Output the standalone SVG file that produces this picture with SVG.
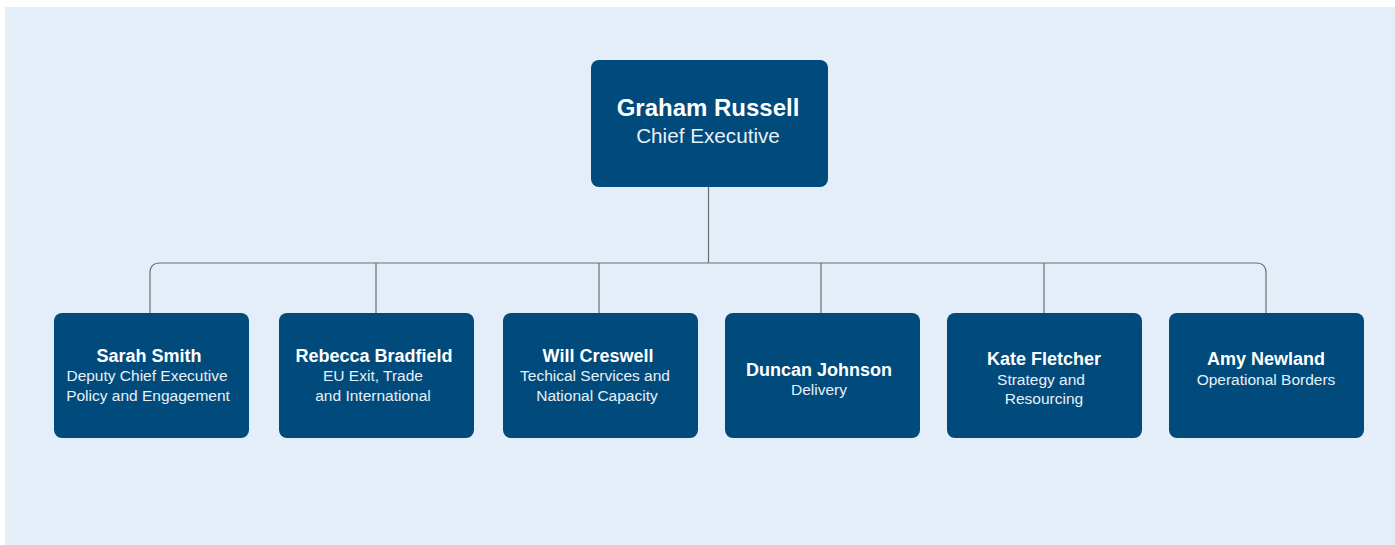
<svg xmlns="http://www.w3.org/2000/svg" width="1395" height="545" viewBox="0 0 1395 545">
<style>
.box{fill:#004b7c}
.name{font-family:"Liberation Sans",Arial,sans-serif;font-weight:bold;font-size:18px;fill:#ffffff;text-anchor:middle}
.role{font-family:"Liberation Sans",Arial,sans-serif;font-size:15.5px;fill:#e8f0f8;text-anchor:middle}
.top-name{font-size:24px}
.top-role{font-size:20.7px}
.conn{fill:none;stroke:#6d6e71;stroke-width:1.2}
</style>
<rect x="5" y="7" width="1390" height="538" fill="#e4eef8"/>
<g id="connectors">
<path class="conn" d="M708.5 187 V263"/>
<path class="conn" d="M150 313 V273 Q150 263 160 263 H1256 Q1266 263 1266 273 V313"/>
<path class="conn" d="M376 263 V313"/>
<path class="conn" d="M599 263 V313"/>
<path class="conn" d="M821 263 V313"/>
<path class="conn" d="M1044 263 V313"/>
</g>
<g id="graham-russell">
<rect class="box" x="591" y="60" width="237" height="127" rx="8"/>
<text class="name top-name" x="708" y="116">Graham Russell</text>
<text class="role top-role" x="708" y="143">Chief Executive</text>
</g>
<g id="sarah-smith">
<rect class="box" x="54" y="313" width="195" height="125" rx="8"/>
<text class="name" x="149" y="362">Sarah Smith</text>
<text class="role" x="147" y="381">Deputy Chief Executive</text>
<text class="role" x="148" y="401">Policy and Engagement</text>
</g>
<g id="rebecca-bradfield">
<rect class="box" x="279" y="313" width="195" height="125" rx="8"/>
<text class="name" x="374" y="362">Rebecca Bradfield</text>
<text class="role" x="373" y="381">EU Exit, Trade</text>
<text class="role" x="373" y="401">and International</text>
</g>
<g id="will-creswell">
<rect class="box" x="503" y="313" width="195" height="125" rx="8"/>
<text class="name" x="598" y="362">Will Creswell</text>
<text class="role" x="595" y="381">Techical Services and</text>
<text class="role" x="597" y="401">National Capacity</text>
</g>
<g id="duncan-johnson">
<rect class="box" x="725" y="313" width="195" height="125" rx="8"/>
<text class="name" x="819" y="376">Duncan Johnson</text>
<text class="role" x="819" y="395">Delivery</text>
</g>
<g id="kate-fletcher">
<rect class="box" x="947" y="313" width="195" height="125" rx="8"/>
<text class="name" x="1044" y="365">Kate Fletcher</text>
<text class="role" x="1041" y="385">Strategy and</text>
<text class="role" x="1044" y="404">Resourcing</text>
</g>
<g id="amy-newland">
<rect class="box" x="1169" y="313" width="195" height="125" rx="8"/>
<text class="name" x="1266" y="365">Amy Newland</text>
<text class="role" x="1266" y="385">Operational Borders</text>
</g>
</svg>
